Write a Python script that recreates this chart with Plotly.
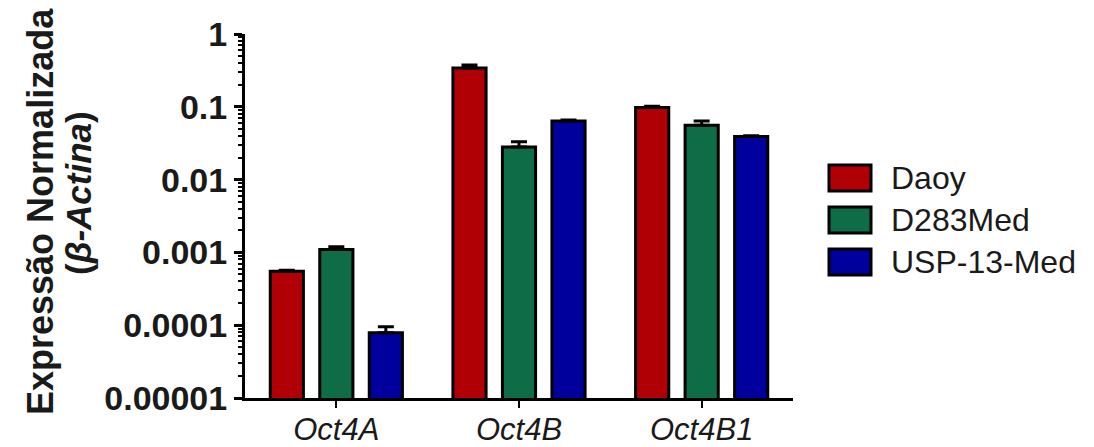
import plotly.graph_objects as go

# ---- data ----
categories = ["Oct4A", "Oct4B", "Oct4B1"]
series_names = ["Daoy", "D283Med", "USP-13-Med"]
daoy = [0.00055, 0.34, 0.098]
daoy_err = [0.00002, 0.035, 0.004]
d283 = [0.0011, 0.028, 0.056]
d283_err = [0.0001, 0.005, 0.008]
usp = [0.000079, 0.064, 0.039]
usp_err = [0.000016, 0.002, 0.001]
y_tickvals = [1e-5, 1e-4, 1e-3, 1e-2, 1e-1, 1]
y_ticktext = ["0.00001", "0.0001", "0.001", "0.01", "0.1", "1"]

colors = ["#B00006", "#0E6C46", "#00009C"]
values = [daoy, d283, usp]
errors = [daoy_err, d283_err, usp_err]

W, H = 1094, 447
L, R, T, B = 245, 793, 34, 398
def px(x):
    return (x - L) / (R - L)
def py(y):
    return (B - y) / (B - T)

FONT = "Arial, Liberation Sans, sans-serif"

fig = go.Figure()
for name, vals, errs, col in zip(series_names, values, errors, colors):
    fig.add_trace(go.Bar(
        x=categories, y=vals, name=name,
        marker=dict(color=col, line=dict(color="black", width=3)),
        error_y=dict(type="data", array=errs, arrayminus=[0] * len(errs),
                     symmetric=False, color="black", thickness=3, width=8),
        showlegend=False,
    ))

annotations = [
    dict(text="<b>Expressão Normalizada</b>", x=px(40), y=py(212), xref="paper", yref="paper",
         textangle=-90, showarrow=False, xanchor="center", yanchor="middle",
         font=dict(family=FONT, size=36, color="#1a1a1a")),
    dict(text="<b>(<i>β-Actina</i>)</b>", x=px(78), y=py(193), xref="paper", yref="paper",
         textangle=-90, showarrow=False, xanchor="center", yanchor="middle",
         font=dict(family=FONT, size=35, color="#1a1a1a")),
]
shapes = []
leg_y = [178, 220, 262]
for name, col, yy in zip(series_names, colors, leg_y):
    shapes.append(dict(type="rect", xref="paper", yref="paper",
                       x0=px(829), x1=px(871), y0=py(yy - 13), y1=py(yy + 13),
                       fillcolor=col, line=dict(color="black", width=3)))
    annotations.append(dict(text=name, x=px(889), y=py(yy), xref="paper", yref="paper",
                            showarrow=False, xanchor="left", yanchor="middle",
                            font=dict(family=FONT, size=32, color="#1a1a1a")))

fig.update_layout(
    width=W, height=H,
    margin=dict(l=L, r=W - R, t=T, b=H - B, pad=0),
    paper_bgcolor="white", plot_bgcolor="white",
    barmode="group", bargap=0.187, bargroupgap=0.33,
    annotations=annotations, shapes=shapes,
    font=dict(family=FONT, color="#1a1a1a"),
)
fig.update_xaxes(
    range=[-0.5, 2.5], showline=True, linecolor="black", linewidth=3,
    ticks="outside", ticklen=7, tickwidth=2, tickcolor="black",
    tickfont=dict(family=FONT, size=31, style="italic", color="#1a1a1a"),
    ticklabelstandoff=-5,
    showgrid=False, zeroline=False, automargin=False,
)
fig.update_yaxes(
    type="log", range=[-5, 0], showline=True, linecolor="black", linewidth=3,
    tickmode="array", tickvals=y_tickvals, ticktext=y_ticktext,
    ticks="outside", ticklen=8, tickwidth=3, tickcolor="black",
    tickfont=dict(family=FONT, size=34, weight="bold", color="#1a1a1a"),
    minor=dict(ticks="outside", ticklen=4, tickwidth=1.5, tickcolor="black", dtick="D1"),
    showgrid=False, zeroline=False, automargin=False,
)

fig.write_html("out.html", config={"displayModeBar": False},
               post_script="document.body.style.margin='0';document.body.style.overflow='hidden';")
